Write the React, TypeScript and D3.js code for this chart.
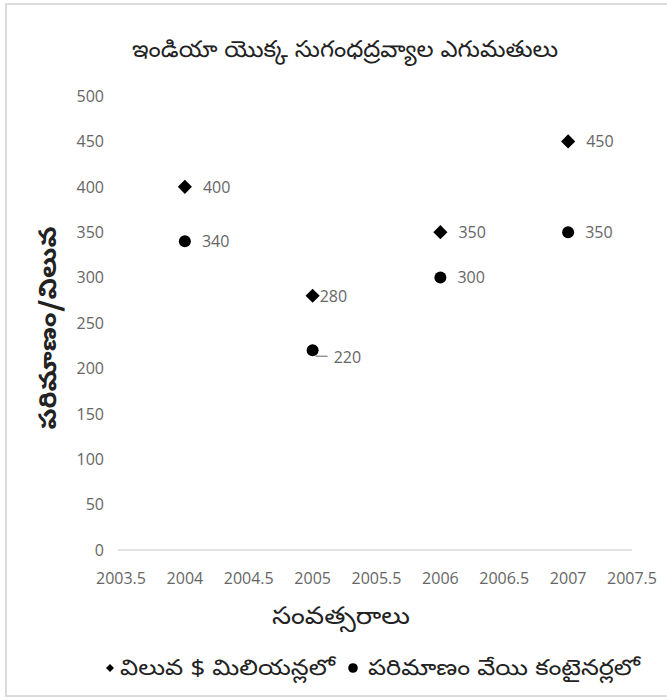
import React from "react";
import * as d3 from "d3";

const years = [2004, 2005, 2006, 2007];
const valueMillions = [400, 280, 350, 450];
const quantityThousands = [340, 220, 300, 350];
const xTicks = [2003.5, 2004, 2004.5, 2005, 2005.5, 2006, 2006.5, 2007, 2007.5];
const yTicks = [0, 50, 100, 150, 200, 250, 300, 350, 400, 450, 500];

const titleText = "ఇండియా యొక్క సుగంధద్రవ్యాల ఎగుమతులు";
const xTitle = "సంవత్సరాలు";
const yTitle = "పరిమాణం/విలువ";
const legendValue = "విలువ $ మిలియన్లలో";
const legendQty = "పరిమాణం వేయి కంటైనర్లలో";

const W = 667;
const H = 700;
const teluguFont = "'Noto Sans Telugu', 'Noto Sans', sans-serif";
const numFont = "'Open Sans', 'Noto Sans', sans-serif";

export default function App() {
  const x = d3.scaleLinear().domain([2003.5, 2007.5]).range([121, 632]);
  const y = d3.scaleLinear().domain([0, 500]).range([550, 96]);
  const diamond = d3.symbol().type(d3.symbolDiamond2).size(128);
  const legendDiamond = d3.symbol().type(d3.symbolDiamond2).size(40);

  return (
    <svg
      width={W}
      height={H}
      style={{ position: "absolute", left: 0, top: 0, background: "#fff" }}
    >
      <rect x={6} y={4} width={W} height={692} fill="#fff" stroke="#dcdcdc" strokeWidth={2} />
      <text x={132} y={57} fontSize={23} textLength={426} lengthAdjust="spacingAndGlyphs" fill="#222" fontFamily={teluguFont}>
        {titleText}
      </text>
      {/* y tick labels */}
      {yTicks.map((t) => (
        <text key={t} x={104} y={y(t)} dy="0.36em" textAnchor="end" fontSize={16} fill="#666" fontFamily={numFont}>
          {t}
        </text>
      ))}
      {/* x axis line */}
      <line x1={118} x2={632} y1={y(0)} y2={y(0)} stroke="#d9d9d9" strokeWidth={1.5} />
      {xTicks.map((t) => (
        <text key={t} x={x(t)} y={584} textAnchor="middle" fontSize={16} fill="#666" fontFamily={numFont}>
          {t}
        </text>
      ))}
      <text x={272} y={624} fontSize={24} textLength={138} lengthAdjust="spacingAndGlyphs" fill="#222" fontFamily={teluguFont}>
        {xTitle}
      </text>
      <text
        transform={`translate(56, 328) rotate(-90)`}
        textAnchor="middle"
        fontSize={24}
        fontWeight="bold"
        textLength={203}
        lengthAdjust="spacingAndGlyphs"
        fill="#222"
        fontFamily={teluguFont}
      >
        {yTitle}
      </text>
      {/* value series: diamonds */}
      {years.map((yr, i) => (
        <path key={"v" + yr} d={diamond() as string} transform={`translate(${x(yr)},${y(valueMillions[i])})`} fill="#000" />
      ))}
      {/* quantity series: circles */}
      {years.map((yr, i) => (
        <circle key={"q" + yr} cx={x(yr)} cy={y(quantityThousands[i])} r={6} fill="#000" />
      ))}
      {/* data labels */}
      {years.map((yr, i) => {
        const dx = yr === 2005 ? 7 : 18;
        return (
          <text key={"lv" + yr} x={x(yr) + dx} y={y(valueMillions[i])} dy="0.36em" fontSize={16} fill="#666" fontFamily={numFont}>
            {valueMillions[i]}
          </text>
        );
      })}
      {years.map((yr, i) => {
        const dx = yr === 2005 ? 21 : 17;
        const dyOff = yr === 2005 ? 7 : 0;
        return (
          <g key={"lq" + yr}>
            {yr === 2005 && (
              <line
                x1={x(yr) + 3}
                x2={x(yr) + 15}
                y1={y(quantityThousands[i]) + 6}
                y2={y(quantityThousands[i]) + 6}
                stroke="#7f7f7f"
                strokeWidth={1.2}
              />
            )}
            <text x={x(yr) + dx} y={y(quantityThousands[i]) + dyOff} dy="0.36em" fontSize={16} fill="#666" fontFamily={numFont}>
              {quantityThousands[i]}
            </text>
          </g>
        );
      })}
      {/* legend */}
      <g fontFamily={teluguFont} fontSize={22} fill="#222">
        <path d={legendDiamond() as string} transform="translate(110,668)" fill="#000" />
        <text x={120} y={675} textLength={215} lengthAdjust="spacingAndGlyphs">{legendValue}</text>
        <circle cx={353} cy={668} r={4.8} fill="#000" />
        <text x={368} y={675} textLength={272} lengthAdjust="spacingAndGlyphs">{legendQty}</text>
      </g>
    </svg>
  );
}
